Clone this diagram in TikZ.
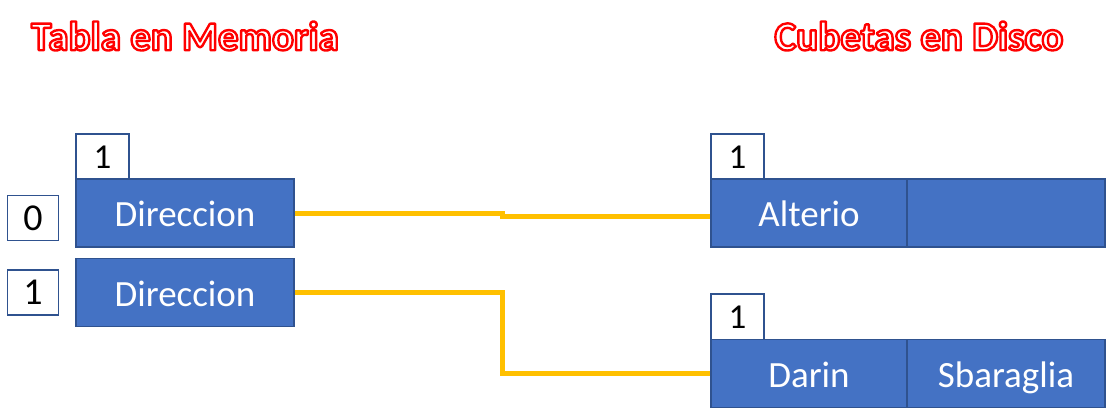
\documentclass[tikz,border=0pt]{standalone}
\usepackage{fontspec}
\setmainfont{Carlito}
\definecolor{bfill}{HTML}{4472C4}
\definecolor{bline}{HTML}{2F528F}
\definecolor{conn}{HTML}{FFC000}
% white letters with a red outline (text render mode 2: fill and stroke)
\newcommand{\redtext}[1]{{\color{white}\special{pdf:literal direct 1 0 0 RG 2.4 w 1 j 2 Tr}#1\special{pdf:literal direct 0 Tr 1 w 0 j}}}
\begin{document}
\begin{tikzpicture}[x=1pt,y=-1pt,
  tagbox/.style={draw=bline,line width=1.3pt,fill=white,minimum width=53pt,minimum height=46pt,inner sep=0pt,font=\fontsize{35}{40}\selectfont,text=black},
  cellbox/.style={draw=bline,line width=1.3pt,fill=bfill,minimum height=68pt,inner sep=0pt,font=\fontsize{37}{42}\selectfont,text=white,text height=27pt,text depth=0pt},
  title/.style={font=\bfseries\fontsize{41}{46}\selectfont,inner sep=0pt},
  connline/.style={draw=conn,line width=5pt}]
\useasboundingbox (0,0) rectangle (1106,420);
% titles
\node[title] (t1) at (185,36) {\redtext{Tabla en Memoria}};
\node[title] (t2) at (919,36) {\redtext{Cubetas en Disco}};
% index boxes
\node[tagbox,minimum width=51pt,minimum height=45pt,font=\fontsize{38}{42}\selectfont] (i0) at (33,218) {0};
\node[tagbox,minimum width=51pt,minimum height=45pt,font=\fontsize{38}{42}\selectfont] (i1) at (33,292.5) {1};
% table
\node[tagbox] (h0) at (102.5,157) {1};
\node[cellbox,minimum width=218pt] (d0) at (185,213) {Direccion};
\node[cellbox,minimum width=218pt] (d1) at (185,292.5) {Direccion};
% buckets
\node[tagbox] (h1) at (737.5,157) {1};
\node[cellbox,minimum width=196pt] (a1) at (809,213) {Alterio};
\node[cellbox,minimum width=198pt] (a2) at (1006,213) {};
\node[tagbox] (h2) at (737.5,317) {1};
\node[cellbox,minimum width=196pt] (b1) at (809,373.5) {Darin};
\node[cellbox,minimum width=198pt] (b2) at (1006,373.5) {Sbaraglia};
% connectors
\coordinate (k) at (502,0);
\draw[connline] (d0.east) -- (d0.east -| k) -- ([yshift=-3pt]d0.east -| k) -- ([yshift=-3pt]a1.west);
\draw[connline] (d1.east) -- (d1.east -| k) |- (b1.west);
\end{tikzpicture}
\end{document}
